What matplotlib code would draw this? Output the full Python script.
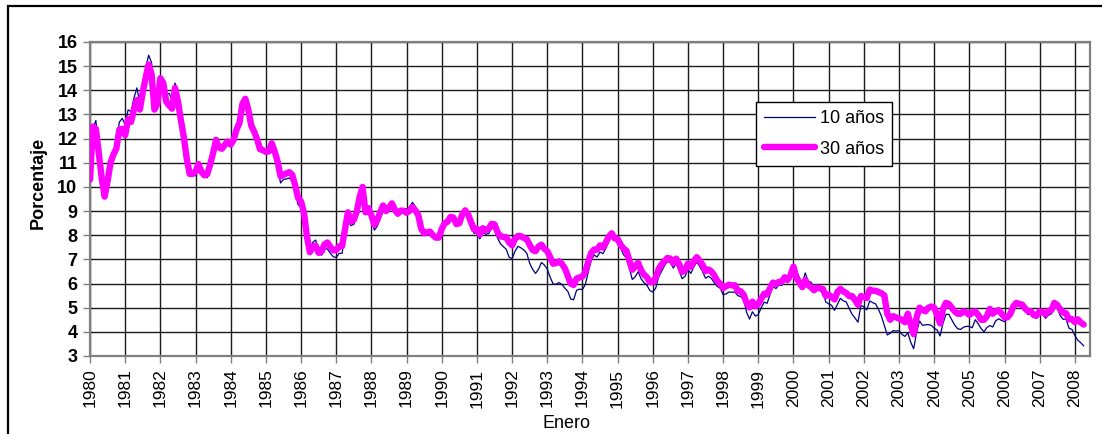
import numpy as np
import matplotlib
matplotlib.use("Agg")
import matplotlib.pyplot as plt
from matplotlib.patches import Rectangle

plt.rcParams['font.family'] = ['Liberation Sans', 'DejaVu Sans']

# monthly yields, Jan 1980 .. Apr 2008 (percent)
ten_years = [
    10.80, 12.41, 12.75, 11.47, 10.18, 9.78, 10.25, 11.10, 11.51, 11.75, 12.68, 12.84,   # 1980
    12.57, 13.19, 13.12, 13.68, 14.10, 13.47, 14.28, 14.94, 15.45, 15.15, 13.39, 13.72,  # 1981
    14.59, 14.43, 13.86, 13.87, 13.62, 14.30, 13.95, 13.06, 12.34, 10.91, 10.55, 10.54,  # 1982
    10.46, 10.72, 10.51, 10.40, 10.38, 10.85, 11.38, 11.85, 11.65, 11.54, 11.69, 11.83,  # 1983
    11.67, 11.84, 12.32, 12.63, 13.41, 13.65, 13.36, 12.72, 12.52, 12.16, 11.57, 11.50,  # 1984
    11.38, 11.51, 11.86, 11.43, 10.85, 10.16, 10.31, 10.33, 10.37, 10.24, 9.78, 9.26,    # 1985
    9.19, 8.70, 7.78, 7.30, 7.71, 7.80, 7.30, 7.17, 7.45, 7.43, 7.25, 7.11,              # 1986
    7.08, 7.25, 7.25, 8.02, 8.61, 8.40, 8.45, 8.76, 9.42, 9.70, 8.86, 8.99,              # 1987
    8.67, 8.21, 8.37, 8.72, 9.09, 8.92, 9.06, 9.26, 8.98, 8.80, 8.96, 9.11,              # 1988
    9.09, 9.17, 9.36, 9.18, 8.86, 8.28, 8.02, 8.11, 8.19, 8.01, 7.87, 7.84,              # 1989
    8.21, 8.47, 8.59, 8.79, 8.76, 8.48, 8.47, 8.75, 8.89, 8.72, 8.39, 8.08,              # 1990
    8.09, 7.85, 8.11, 8.04, 8.07, 8.28, 8.27, 7.90, 7.65, 7.53, 7.42, 7.09,              # 1991
    7.03, 7.34, 7.54, 7.48, 7.39, 7.26, 6.84, 6.59, 6.42, 6.59, 6.87, 6.77,              # 1992
    6.60, 6.26, 5.98, 5.97, 6.04, 5.96, 5.81, 5.68, 5.36, 5.33, 5.72, 5.77,              # 1993
    5.75, 5.97, 6.48, 6.97, 7.18, 7.10, 7.30, 7.24, 7.46, 7.74, 7.96, 7.81,              # 1994
    7.78, 7.47, 7.20, 7.06, 6.63, 6.17, 6.28, 6.49, 6.20, 6.04, 5.93, 5.71,              # 1995
    5.65, 5.81, 6.27, 6.51, 6.74, 6.91, 6.87, 6.64, 6.83, 6.53, 6.20, 6.30,              # 1996
    6.58, 6.42, 6.69, 6.89, 6.71, 6.49, 6.22, 6.30, 6.21, 6.03, 5.88, 5.81,              # 1997
    5.54, 5.57, 5.65, 5.64, 5.65, 5.50, 5.46, 5.34, 4.81, 4.53, 4.83, 4.65,              # 1998
    4.72, 5.00, 5.23, 5.18, 5.54, 5.90, 5.79, 5.94, 5.92, 6.11, 6.03, 6.28,              # 1999
    6.66, 6.52, 6.26, 5.99, 6.44, 6.10, 6.05, 5.83, 5.80, 5.74, 5.72, 5.24,              # 2000
    5.16, 5.10, 4.89, 5.14, 5.39, 5.28, 5.24, 4.97, 4.73, 4.57, 4.40, 5.09,              # 2001
    5.04, 4.91, 5.28, 5.21, 5.16, 4.93, 4.65, 4.26, 3.87, 3.94, 4.05, 4.03,              # 2002
    4.05, 3.90, 3.81, 3.96, 3.57, 3.30, 3.98, 4.45, 4.27, 4.29, 4.30, 4.27,              # 2003
    4.15, 4.08, 3.83, 4.35, 4.72, 4.73, 4.50, 4.28, 4.13, 4.10, 4.19, 4.23,              # 2004
    4.22, 4.17, 4.50, 4.34, 4.14, 4.00, 4.18, 4.26, 4.20, 4.46, 4.54, 4.47,              # 2005
    4.42, 4.57, 4.72, 4.99, 5.11, 5.11, 5.09, 4.88, 4.72, 4.73, 4.60, 4.56,              # 2006
    4.76, 4.72, 4.56, 4.69, 4.75, 5.10, 5.00, 4.67, 4.52, 4.53, 4.15, 4.10,              # 2007
    3.85, 3.65, 3.55, 3.42,                                                              # 2008
]

thirty_years = [
    10.30, 12.50, 12.40, 11.40, 10.36, 9.60, 10.24, 11.00, 11.34, 11.59, 12.37, 12.40,   # 1980
    12.14, 12.80, 12.69, 13.20, 13.60, 13.20, 13.92, 14.52, 15.07, 14.68, 13.20, 13.45,  # 1981
    14.50, 14.30, 13.53, 13.37, 13.24, 14.10, 13.55, 12.77, 12.07, 11.17, 10.54, 10.54,  # 1982
    10.63, 10.95, 10.63, 10.48, 10.53, 10.93, 11.40, 11.95, 11.63, 11.58, 11.75, 11.88,  # 1983
    11.75, 11.95, 12.38, 12.65, 13.43, 13.65, 13.21, 12.54, 12.29, 11.98, 11.56, 11.52,  # 1984
    11.45, 11.47, 11.81, 11.47, 11.05, 10.44, 10.50, 10.56, 10.61, 10.50, 10.06, 9.54,   # 1985
    9.40, 8.93, 7.96, 7.30, 7.52, 7.57, 7.27, 7.33, 7.62, 7.70, 7.52, 7.37,              # 1986
    7.39, 7.54, 7.55, 8.25, 8.95, 8.57, 8.64, 8.97, 9.59, 10.00, 8.95, 9.12,             # 1987
    8.83, 8.43, 8.63, 8.95, 9.23, 9.00, 9.14, 9.32, 9.06, 8.89, 9.02, 9.01,              # 1988
    8.93, 9.01, 9.17, 9.03, 8.83, 8.27, 8.08, 8.12, 8.15, 8.00, 7.90, 7.90,              # 1989
    8.26, 8.50, 8.56, 8.76, 8.73, 8.46, 8.50, 8.86, 9.03, 8.86, 8.54, 8.24,              # 1990
    8.27, 8.03, 8.29, 8.21, 8.27, 8.47, 8.45, 8.14, 7.95, 7.93, 7.92, 7.70,              # 1991
    7.58, 7.85, 7.97, 7.96, 7.89, 7.84, 7.60, 7.39, 7.34, 7.53, 7.61, 7.44,              # 1992
    7.34, 7.09, 6.82, 6.85, 6.92, 6.81, 6.63, 6.32, 6.00, 5.94, 6.21, 6.25,              # 1993
    6.29, 6.49, 6.91, 7.27, 7.41, 7.40, 7.58, 7.49, 7.71, 7.94, 8.08, 7.87,              # 1994
    7.85, 7.61, 7.45, 7.36, 6.95, 6.57, 6.72, 6.86, 6.55, 6.37, 6.26, 6.06,              # 1995
    6.05, 6.24, 6.60, 6.79, 6.93, 7.06, 7.03, 6.84, 7.03, 6.81, 6.48, 6.55,              # 1996
    6.83, 6.69, 6.93, 7.09, 6.94, 6.77, 6.51, 6.58, 6.50, 6.33, 6.11, 5.99,              # 1997
    5.81, 5.89, 5.95, 5.92, 5.93, 5.70, 5.68, 5.54, 5.20, 5.01, 5.25, 5.06,              # 1998
    5.16, 5.37, 5.58, 5.55, 5.81, 6.04, 5.98, 6.07, 6.07, 6.26, 6.15, 6.35,              # 1999
    6.70, 6.23, 6.05, 5.85, 6.15, 5.93, 5.85, 5.72, 5.83, 5.80, 5.78, 5.49,              # 2000
    5.54, 5.45, 5.34, 5.65, 5.78, 5.67, 5.61, 5.48, 5.48, 5.32, 5.12, 5.48,              # 2001
    5.45, 5.40, 5.75, 5.70, 5.70, 5.65, 5.60, 5.50, 4.75, 4.50, 4.65, 4.60,              # 2002
    4.55, 4.50, 4.40, 4.75, 4.30, 3.90, 4.60, 5.00, 4.90, 4.85, 5.00, 5.05,              # 2003
    5.00, 4.70, 4.35, 4.95, 5.20, 5.15, 5.00, 4.85, 4.75, 4.75, 4.85, 4.80,              # 2004
    4.70, 4.80, 4.85, 4.70, 4.50, 4.50, 4.65, 4.95, 4.75, 4.85, 4.90, 4.75,              # 2005
    4.60, 4.60, 4.75, 5.05, 5.20, 5.15, 5.13, 4.97, 4.85, 4.85, 4.69, 4.68,              # 2006
    4.85, 4.82, 4.72, 4.87, 4.90, 5.20, 5.11, 4.93, 4.79, 4.77, 4.52, 4.53,              # 2007
    4.40, 4.52, 4.39, 4.30,                                                              # 2008
]

years = list(range(1980, 2009))
series_labels = ['10 años', '30 años']

dates = 1980 + np.arange(len(ten_years)) / 12.0

fig = plt.figure(figsize=(11.02, 4.34), dpi=100)
ax = fig.add_axes([90 / 1102, 78 / 434, 1000 / 1102, 314 / 434])

ax.plot(dates, ten_years, color='#000080', lw=0.9, label=series_labels[0], zorder=3)
ax.plot(dates, thirty_years, color='#FF00FF', lw=4.6, label=series_labels[1],
        solid_capstyle='round', solid_joinstyle='round', zorder=4)

ax.set_xlim(1980, 2008.43)
ax.set_ylim(3, 16)
ax.set_yticks(range(3, 17))
ax.set_xticks(years)
ax.set_xticklabels([str(y) for y in years], rotation=90, fontsize=12.5)
for lab in ax.get_yticklabels():
    lab.set_fontweight('bold')
    lab.set_fontsize(13)

ax.grid(True, color='#1a1a1a', lw=1.0, zorder=1)
ax.set_axisbelow(True)
for sp in ax.spines.values():
    sp.set_color('#808080')
    sp.set_linewidth(1.6)
ax.tick_params(axis='both', direction='out', length=5, width=1.0, color='#808080', pad=4)

fig.text(38 / 1102, 1 - 183 / 434, 'Porcentaje', rotation=90, fontsize=13,
         fontweight='bold', ha='center', va='center')
fig.text(566 / 1102, 1 - 423 / 434, 'Enero', fontsize=13, ha='center', va='center')

leg = ax.legend(loc='upper left', bbox_to_anchor=((756 - 90) / 1000, (356 - 102) / 314),
                borderaxespad=0, fontsize=13, handlelength=2.8, handletextpad=0.3,
                labelspacing=0.75, borderpad=0.45, fancybox=False, framealpha=1)
leg.get_frame().set_edgecolor('black')
leg.get_frame().set_linewidth(1.0)

# outer chart frame (only top and left edges visible)
fig.add_artist(Rectangle((8 / 1102, -0.1), 2.0, (434 - 6) / 434 + 0.1,
                         transform=fig.transFigure, fill=False, ec='black', lw=1.6))

fig.savefig('out.png', dpi=100)
